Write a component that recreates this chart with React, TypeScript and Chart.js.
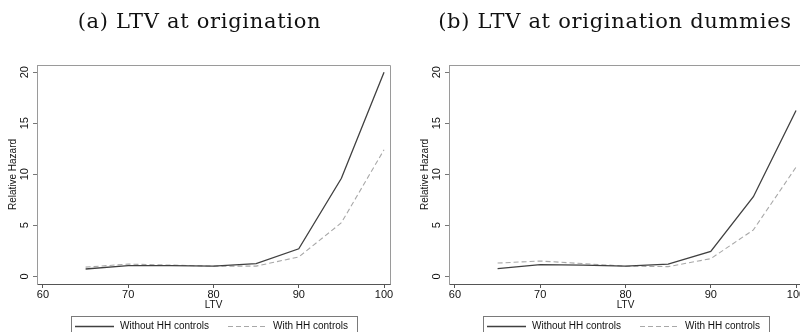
import React, { useEffect, useRef } from "react";
import { Chart, registerables } from "chart.js";

Chart.register(...registerables);

// ---- data ----
const ltv = [65, 70, 75, 80, 85, 90, 95, 100];
const panelATitle = "(a) LTV at origination";
const panelBTitle = "(b) LTV at origination dummies";
const seriesLabels = ["Without HH controls", "With HH controls"];
const aWithout = [0.72, 1.05, 1.05, 1.0, 1.25, 2.7, 9.6, 20.0];
const aWith = [0.9, 1.2, 1.1, 1.0, 1.0, 1.9, 5.25, 12.4];
const bWithout = [0.75, 1.15, 1.1, 1.0, 1.2, 2.45, 7.8, 16.25];
const bWith = [1.3, 1.5, 1.25, 1.0, 0.95, 1.73, 4.55, 10.7];
const xTicks = [60, 70, 80, 90, 100];
const yTicks = [0, 5, 10, 15, 20];
const xTitle = "LTV";
const yTitle = "Relative Hazard";

const SANS = "'Liberation Sans', Arial, sans-serif";

const framePlugin = {
  id: "frame",
  afterDraw(chart: any) {
    const { ctx, chartArea: a } = chart;
    ctx.save();
    ctx.strokeStyle = "#9a9a9a";
    ctx.lineWidth = 1;
    ctx.beginPath();
    ctx.moveTo(Math.round(a.left) + 0.5, Math.round(a.top) + 0.5);
    ctx.lineTo(Math.round(a.right) + 0.5, Math.round(a.top) + 0.5);
    ctx.lineTo(Math.round(a.right) + 0.5, Math.round(a.bottom) + 0.5);
    ctx.stroke();
    ctx.restore();
  },
};

const boxLegendPlugin = {
  id: "boxLegend",
  afterDraw(chart: any) {
    const { ctx } = chart;
    const boxLeft = 71;
    const boxTop = 316;
    const boxWidth = 286;
    const rowY = 326;
    const itemStarts = [boxLeft + 4, boxLeft + 157];
    ctx.save();
    ctx.strokeStyle = "#7a7a7a";
    ctx.lineWidth = 1;
    ctx.strokeRect(boxLeft + 0.5, boxTop + 0.5, boxWidth, 40);
    ctx.font = `10px ${SANS}`;
    ctx.textBaseline = "middle";
    ctx.textAlign = "left";
    chart.data.datasets.forEach((ds: any, i: number) => {
      const x0 = itemStarts[i];
      ctx.strokeStyle = ds.borderColor;
      ctx.lineWidth = ds.borderWidth;
      ctx.setLineDash(ds.borderDash || []);
      ctx.beginPath();
      ctx.moveTo(x0, rowY + 0.5);
      ctx.lineTo(x0 + 39, rowY + 0.5);
      ctx.stroke();
      ctx.setLineDash([]);
      ctx.fillStyle = "#111";
      ctx.fillText(ds.label, x0 + 45, rowY);
    });
    ctx.restore();
  },
};

function Panel({ left, without, withC }: { left: number; without: number[]; withC: number[] }) {
  const ref = useRef<HTMLCanvasElement | null>(null);
  useEffect(() => {
    if (!ref.current) return;
    const chart = new Chart(ref.current, {
      type: "line",
      data: {
        datasets: [
          {
            label: seriesLabels[0],
            data: ltv.map((x, i) => ({ x, y: without[i] })),
            borderColor: "#404040",
            borderWidth: 1.3,
            pointRadius: 0,
            tension: 0,
            fill: false,
          },
          {
            label: seriesLabels[1],
            data: ltv.map((x, i) => ({ x, y: withC[i] })),
            borderColor: "#a8a8a8",
            borderWidth: 1.1,
            borderDash: [5, 3],
            pointRadius: 0,
            tension: 0,
            fill: false,
          },
        ],
      },
      options: {
        animation: false,
        responsive: false,
        layout: { padding: { left: 0, right: 10, top: 65, bottom: 21 } },
        plugins: { legend: { display: false }, tooltip: { enabled: false }, title: { display: false } },
        scales: {
          x: {
            type: "linear",
            min: 59.3,
            max: 100.7,
            afterBuildTicks: (s: any) => {
              s.ticks = xTicks.map((v) => ({ value: v }));
            },
            afterFit: (s: any) => {
              s.height = 27;
            },
            border: { display: true, color: "#555", width: 1 },
            grid: { display: true, drawOnChartArea: false, drawTicks: true, tickLength: 4, color: "#555" },
            ticks: { color: "#111", font: { family: SANS, size: 11 }, padding: 0, maxRotation: 0, minRotation: 0 },
            title: { display: true, text: xTitle, color: "#111", font: { family: SANS, size: 10 }, padding: { top: 0, bottom: 0 } },
          },
          y: {
            type: "linear",
            min: -0.75,
            max: 20.7,
            afterBuildTicks: (s: any) => {
              s.ticks = yTicks.map((v) => ({ value: v }));
            },
            afterFit: (s: any) => {
              s.width = 37;
            },
            border: { display: true, color: "#9a9a9a", width: 1 },
            grid: { display: true, drawOnChartArea: false, drawTicks: true, tickLength: 4, color: "#777" },
            ticks: {
              color: "#111",
              font: { family: SANS, size: 11 },
              minRotation: 90,
              maxRotation: 90,
              crossAlign: "center",
              padding: 2,
            },
            title: { display: true, text: yTitle, color: "#111", font: { family: SANS, size: 10 }, padding: { top: 7, bottom: 0 } },
          },
        },
      } as any,
      plugins: [framePlugin, boxLegendPlugin],
    });
    return () => chart.destroy();
  }, []);
  return (
    <canvas
      ref={ref}
      width={400}
      height={332}
      style={{ position: "absolute", left, top: 0, width: 400, height: 332 }}
    />
  );
}

const titleStyle = (center: number): React.CSSProperties => ({
  position: "absolute",
  left: center - 200,
  width: 400,
  top: 11,
  textAlign: "center",
  fontFamily: "'DejaVu Serif', serif",
  fontSize: 21,
  lineHeight: "21px",
  letterSpacing: "0.7px",
  color: "#111",
  whiteSpace: "nowrap",
});

export default function App() {
  return (
    <div
      style={{
        position: "fixed",
        left: 0,
        top: 0,
        width: 800,
        height: 332,
        overflow: "hidden",
        background: "#fff",
      }}
    >
      <Panel left={0} without={aWithout} withC={aWith} />
      <Panel left={412} without={bWithout} withC={bWith} />
      <div style={titleStyle(199.5)}>{panelATitle}</div>
      <div style={titleStyle(615)}>{panelBTitle}</div>
    </div>
  );
}
